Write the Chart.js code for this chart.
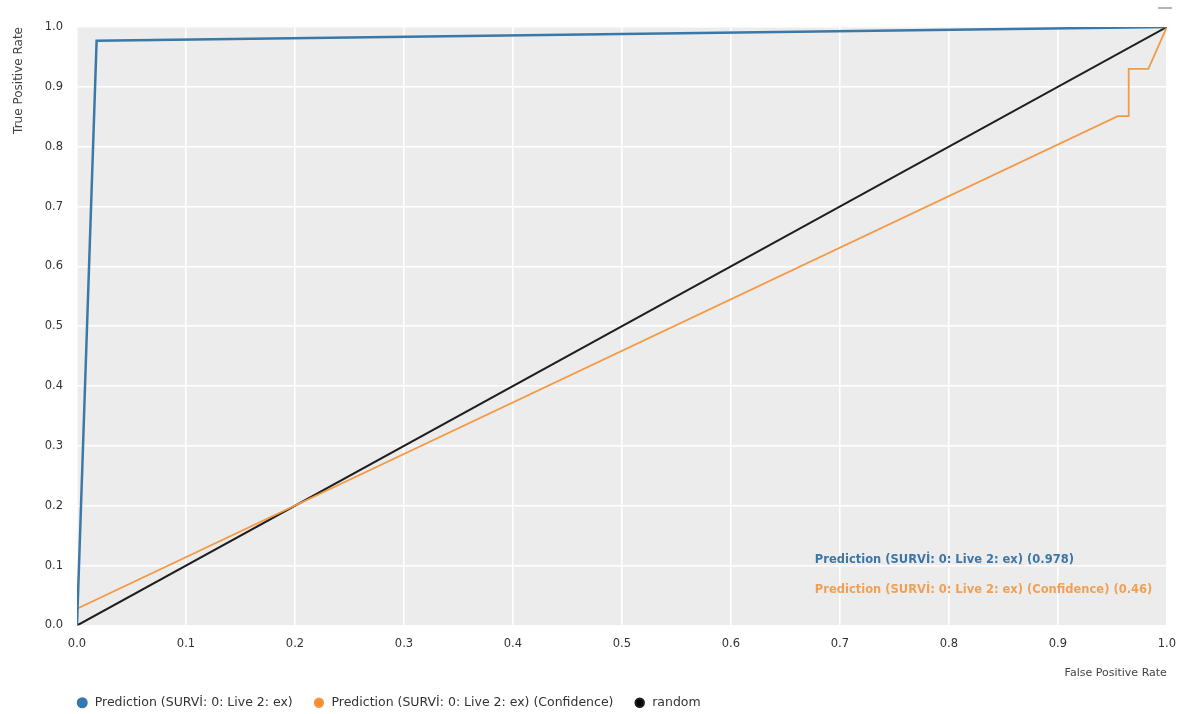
<!DOCTYPE html>
<html>
<head>
<meta charset="utf-8">
<script src="https://cdn.jsdelivr.net/npm/chart.js@4.4.1/dist/chart.umd.min.js"></script>
<style>
  html, body { margin: 0; padding: 0; background: #fff; }
  #wrap { width: 1188px; height: 714px; }
</style>
</head>
<body>
<div id="wrap"><canvas id="roc" width="1188" height="714"></canvas></div>
<script>
// ROC curves
const seriesNames = [
  'Prediction (SURVİ: 0: Live 2: ex)',
  'Prediction (SURVİ: 0: Live 2: ex) (Confidence)',
  'random'
];
const predFpr = [0, 0.018, 1];
const predTpr = [0, 0.977, 1];
const confFpr = [0, 0, 0.955, 0.965, 0.965, 0.983, 1];
const confTpr = [0, 0.028, 0.851, 0.851, 0.93, 0.93, 1];
const randFpr = [0, 1];
const randTpr = [0, 1];
const aucLabels = [
  'Prediction (SURVİ: 0: Live 2: ex) (0.978)',
  'Prediction (SURVİ: 0: Live 2: ex) (Confidence) (0.46)'
];
const rateTicks = [0, 0.1, 0.2, 0.3, 0.4, 0.5, 0.6, 0.7, 0.8, 0.9, 1.0];

const toPoints = (xs, ys) => xs.map((x, i) => ({ x, y: ys[i] }));

const blue = '#3a78a8';
const orange = '#f29a45';
const font = '"DejaVu Sans", sans-serif';

// grey panel behind the plot + AUC notes
const panelPlugin = {
  id: 'panel',
  afterLayout(chart) {
    // legend starts under the plot, not at the canvas edge
    chart.legend.left += 50;
    chart.legend.right += 50;
    chart.legend.top += 5;
  },
  beforeDraw(chart) {
    const { ctx, chartArea: a } = chart;
    ctx.save();
    ctx.fillStyle = '#ececec';
    ctx.fillRect(a.left, a.top, a.right - a.left, a.bottom - a.top);
    ctx.restore();
  },
  afterDraw(chart) {
    const { ctx, scales } = chart;
    ctx.save();
    ctx.font = 'bold 11.5px ' + font;
    ctx.textBaseline = 'middle';
    ctx.fillStyle = '#3d76a6';
    ctx.fillText(aucLabels[0], scales.x.getPixelForValue(0.677), scales.y.getPixelForValue(0.109));
    ctx.fillStyle = '#f0a055';
    ctx.fillText(aucLabels[1], scales.x.getPixelForValue(0.677), scales.y.getPixelForValue(0.059));
    // little toolbar dash top right
    ctx.strokeStyle = '#9a9a9a';
    ctx.lineWidth = 1.5;
    ctx.beginPath();
    ctx.moveTo(1158, 8);
    ctx.lineTo(1172, 8);
    ctx.stroke();
    ctx.restore();
  }
};

new Chart(document.getElementById('roc'), {
  type: 'scatter',
  data: {
    datasets: [
      {
        label: seriesNames[0],
        data: toPoints(predFpr, predTpr),
        showLine: true,
        borderColor: blue,
        backgroundColor: '#2f7bb6',
        borderWidth: 2.5,
        pointRadius: 0,
        tension: 0
      },
      {
        label: seriesNames[1],
        data: toPoints(confFpr, confTpr),
        showLine: true,
        borderColor: orange,
        backgroundColor: '#f58b32',
        borderWidth: 1.8,
        pointRadius: 0,
        tension: 0
      },
      {
        label: seriesNames[2],
        data: toPoints(randFpr, randTpr),
        showLine: true,
        borderColor: '#1e1e1e',
        backgroundColor: '#000000',
        borderWidth: 2,
        pointRadius: 0,
        tension: 0
      }
    ]
  },
  options: {
    responsive: false,
    animation: false,
    layout: { padding: { top: 27, right: 21, left: 6, bottom: 0 } },
    plugins: {
      legend: {
        position: 'bottom',
        align: 'start',
        labels: {
          usePointStyle: true,
          pointStyle: 'circle',
          boxWidth: 14,
          boxHeight: 6,
          padding: 20,
          color: '#333',
          font: { family: font, size: 12.5 }
        }
      },
      tooltip: { enabled: false }
    },
    scales: {
      x: {
        type: 'linear',
        min: 0,
        max: 1,
        afterBuildTicks: s => { s.ticks = rateTicks.map(v => ({ value: v })); },
        ticks: {
          callback: v => v.toFixed(1),
          color: '#333',
          padding: 12,
          font: { family: font, size: 11.5 }
        },
        grid: { color: '#ffffff', lineWidth: 1.6, drawTicks: false },
        border: { display: false },
        title: {
          display: true,
          text: 'False Positive Rate',
          align: 'end',
          color: '#444',
          font: { family: font, size: 11 },
          padding: { top: 0, bottom: -8 }
        },
        afterFit: s => { s.height = 46; }
      },
      y: {
        type: 'linear',
        min: 0,
        max: 1,
        afterBuildTicks: s => { s.ticks = rateTicks.map(v => ({ value: v })); },
        ticks: {
          callback: v => v.toFixed(1),
          color: '#333',
          padding: 14,
          font: { family: font, size: 11.5 }
        },
        grid: { color: '#ffffff', lineWidth: 1.6, drawTicks: false },
        border: { display: false },
        title: {
          display: true,
          text: 'True Positive Rate',
          align: 'end',
          color: '#444',
          font: { family: font, size: 12 },
          padding: { top: 6, bottom: 8 }
        },
        afterFit: s => { s.width = 71; }
      }
    }
  },
  plugins: [panelPlugin]
});
</script>
</body>
</html>
